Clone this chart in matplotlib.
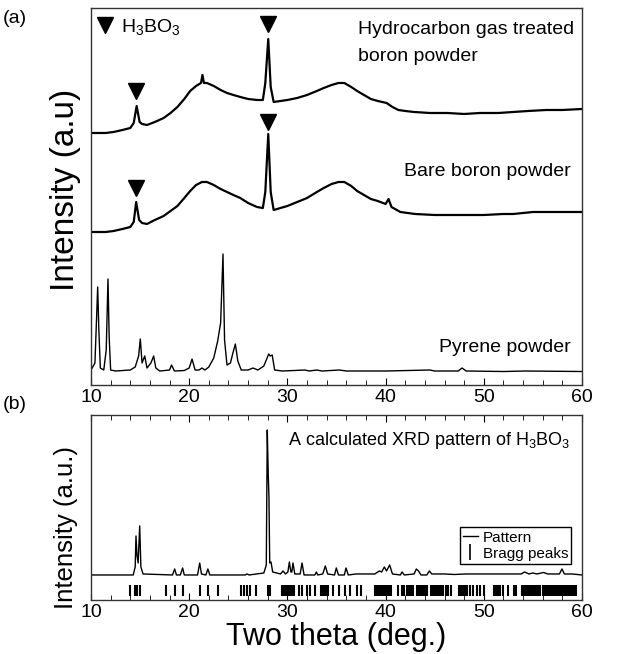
import matplotlib
matplotlib.use('Agg')
import matplotlib.pyplot as plt
from matplotlib.lines import Line2D
from matplotlib.ticker import MultipleLocator

plt.rcParams['font.family'] = ['Liberation Sans', 'DejaVu Sans']
plt.rcParams['mathtext.fontset'] = 'custom'
plt.rcParams['mathtext.rm'] = 'Liberation Sans'
plt.rcParams['mathtext.it'] = 'Liberation Sans:italic'

# ---- (a) measured patterns, stacked (a.u., offsets included) ----
gas_x = [10, 11.5, 12.3, 13.2, 14.0, 14.35, 14.65, 14.95, 15.2, 15.7, 16.5, 17.4, 18.1, 18.8,
         19.5, 20.1, 20.7, 21.2, 21.35, 21.5, 21.8, 22.5, 23.2, 23.85, 24.5, 25.2, 26.0,
         26.9, 27.5, 27.75, 28.05, 28.3, 28.6, 29.3, 30.0, 31.0, 32.0, 33.0, 33.7, 34.5,
         35.2, 35.8, 36.5, 37.1, 37.8, 38.5, 39.2, 40.1, 40.7, 41.3, 42.0, 42.9, 44.5,
         46.3, 48.0, 49.6, 51.5, 53.0, 54.5, 56.4, 58.0, 60]
gas_y = [239, 239, 240, 242, 244, 249, 266, 250, 248, 247, 250, 254, 259, 265,
         273, 281, 286, 289, 297, 289, 289, 286, 282, 279, 277, 275, 273,
         272, 272, 289, 333, 285, 270, 271, 272, 274, 277, 281, 284, 287,
         289, 289, 285, 281, 277, 273, 271, 269, 265, 262, 261, 260, 259,
         259, 258, 259, 259, 260, 261, 262, 262, 263]

bare_x = [10, 11.5, 12.3, 13.2, 14.0, 14.35, 14.6, 14.9, 15.2, 15.7, 16.5, 17.4, 18.1, 18.8,
          19.5, 20.1, 20.7, 21.3, 21.8, 22.5, 23.2, 23.85, 24.5, 25.2, 26.0, 26.9, 27.5,
          27.75, 28.05, 28.3, 28.6, 29.3, 30.0, 31.0, 32.0, 33.0, 33.7, 34.5, 35.2, 35.8,
          36.5, 37.1, 37.8, 38.5, 39.2, 40.0, 40.3, 40.6, 41.5, 43.0, 45.0, 47.5, 50.0,
          52.0, 53.0, 55.0, 57.5, 60]
bare_y = [140, 140, 141, 143, 145, 150, 170, 152, 149, 148, 152, 156, 161, 166,
          174, 181, 187, 190, 190, 187, 183, 180, 177, 174, 169, 165, 164,
          180, 238, 180, 162, 164, 166, 170, 174, 180, 184, 188, 190, 190,
          186, 181, 177, 173, 171, 168, 173, 165, 160, 158, 157, 157, 157,
          158, 158, 160, 160, 160]

pyrene_x = [10.0, 10.4, 10.55, 10.68, 10.8, 10.95, 11.3, 11.55, 11.73, 11.85, 12.0, 12.5,
            14.0, 14.5, 14.85, 15.02, 15.2, 15.47, 15.7, 16.1, 16.38, 16.6, 17.0, 18.0,
            18.2, 18.5, 19.5, 20.0, 20.29, 20.6, 21.0, 21.3, 21.6, 22.0, 22.5, 22.9, 23.2,
            23.44, 23.6, 23.85, 24.2, 24.45, 24.7, 24.95, 25.3, 26.0, 26.5, 27.0, 27.6,
            28.1, 28.25, 28.45, 28.7, 29.5, 31.8, 32.2, 33.0, 33.5, 35.3, 36.0, 40.0,
            44.5, 45.0, 47.4, 47.78, 48.2, 52.0, 54.2, 60.0]
pyrene_y = [2, 9, 49, 85, 42, 4, 2, 22, 93, 35, 2, 1,
            2, 5, 16, 33, 9, 16, 4, 9, 16, 4, 1, 2,
            7, 1, 1.5, 4, 13, 2, 2, 4, 2, 5, 14, 31, 49,
            118, 32, 7, 9, 19, 28, 11, 2, 2, 4, 2, 6,
            18, 16, 17, 2, 1, 2, 1, 2, 1, 2, 1, 1,
            2, 1, 1, 4, 1, 0.5, 1, 0.5]

# H3BO3 markers on the measured patterns
mark_x = [14.6, 28.0, 14.6, 28.0]
mark_y = [281, 348, 184, 250]

# ---- (b) calculated H3BO3 pattern ----
calc_x = [10, 14.3, 14.5, 14.58, 14.68, 14.8, 14.96, 15.08, 15.3, 18.3, 18.52, 18.7, 19.1,
          19.33, 19.5, 20.85, 21.07, 21.25, 21.7, 21.9, 22.1, 25.7, 25.9, 26.1, 27.6, 27.85,
          27.95, 28.05, 28.12, 28.2, 28.33, 28.5, 29.3, 29.55, 29.8, 30.05, 30.2, 30.35,
          30.45, 30.57, 30.75, 31.3, 31.49, 31.7, 32.8, 32.95, 33.1, 33.6, 33.86, 34.1,
          34.8, 34.98, 35.2, 35.8, 35.97, 36.2, 37.0, 38.9, 39.36, 39.6, 39.87, 40.1,
          40.41, 40.7, 41.5, 41.67, 41.9, 42.9, 43.13, 43.35, 43.6, 44.2, 44.45, 44.7,
          45.3, 46.0, 47.0, 48.2, 50.3, 52.3, 53.8, 54.16, 54.6, 55.0, 55.4, 56.1, 56.5,
          57.7, 57.96, 58.2, 58.5, 59.0, 60]
calc_y = [0, 0, 8, 39, 20, 12, 49, 8, 1, 0, 6, 0, 0,
          7, 0, 0, 12, 1, 0, 6, 0, 0, 1, 0, 2, 10,
          145, 100, 78, 12, 13, 3, 1, 4, 1, 3, 13, 3,
          3, 12, 1, 1, 12, 0, 0, 3, 0, 1, 9, 1,
          0, 7, 0, 0, 7, 0, 1, 1, 4, 3, 8, 4,
          10, 1, 0, 3, 0, 1, 6, 4, 0, 0, 4, 1,
          1, 1, 0.5, 1, 1, 1, 1, 3, 1, 2, 1, 2.5, 1,
          1, 6, 1, 1, 1, 0]

bragg = [13.94, 14.5, 14.7, 14.96, 17.67, 18.52, 19.33, 21.07, 21.91, 22.93,
         25.31, 25.55, 25.89, 26.23, 26.84, 27.99, 28.26,
         29.5, 29.6, 29.8, 29.95, 30.1, 30.25, 30.4, 30.55, 30.65,
         31.15, 31.49, 32.0, 32.34, 32.78, 33.4, 33.55, 33.7, 33.85, 34.0, 34.15,
         34.64, 35.22, 35.9, 36.41, 37.09, 37.53,
         38.9, 39.0, 39.1, 39.2, 39.3, 39.4, 39.5, 39.6, 39.7, 39.8, 39.9, 40.0,
         40.1, 40.2, 40.3, 40.4, 40.5,
         41.3, 41.7, 41.9, 42.2, 42.4, 42.6, 42.8,
         43.2, 43.4, 43.6, 43.8, 44.0, 44.2,
         44.6, 44.8, 45.0, 45.2, 45.4, 45.6, 45.8, 46.1, 46.4, 46.7,
         47.5, 47.7, 47.9, 48.1, 48.3, 48.6, 48.9, 49.3, 49.6, 50.0,
         51.0, 51.2, 51.4, 51.6, 52.0, 52.5, 53.1, 53.3,
         53.9, 54.1, 54.3, 54.5, 54.7, 54.9, 55.1, 55.3, 55.5, 55.7, 56.0, 56.2,
         56.4, 56.6, 56.8, 57.0, 57.2, 57.4, 57.6, 57.8, 58.0, 58.2, 58.4, 58.6,
         58.8, 59.0, 59.2, 59.4]


fig = plt.figure(figsize=(6.22, 6.54), dpi=100)
ax1 = fig.add_axes([0.1463, 0.4113, 0.7894, 0.5765])
ax2 = fig.add_axes([0.1463, 0.0826, 0.7894, 0.2829])

# panel (a)
ax1.plot(gas_x, gas_y, color='k', lw=1.6)
ax1.plot(bare_x, bare_y, color='k', lw=1.6)
ax1.plot(pyrene_x, pyrene_y, color='k', lw=1.0)
ax1.plot(mark_x, mark_y, 'kv', ms=11, ls='none')
ax1.plot([11.45], [347], 'kv', ms=11)
ax1.text(13.1, 345, 'H$_3$BO$_3$', fontsize=14, va='center', ha='left')
ax1.text(37.2, 342, 'Hydrocarbon gas treated', fontsize=14, va='center', ha='left')
ax1.text(37.2, 315, 'boron powder', fontsize=14, va='center', ha='left')
ax1.text(58.9, 200, 'Bare boron powder', fontsize=14, va='center', ha='right')
ax1.text(58.9, 25, 'Pyrene powder', fontsize=14, va='center', ha='right')
ax1.set_xlim(10, 60)
ax1.set_ylim(-13, 364)

# panel (b)
ax2.plot(calc_x, calc_y, color='k', lw=1.0)
ax2.vlines(bragg, -21, -10, color='k', lw=1.5)
ax2.text(58.8, 134, 'A calculated XRD pattern of H$_3$BO$_3$', fontsize=13,
         va='center', ha='right')
ax2.set_xlim(10, 60)
ax2.set_ylim(-25, 160)
handles = [Line2D([], [], color='k', lw=1.0),
           Line2D([], [], color='k', marker='|', ms=12, ls='none', mew=1.2)]
ax2.legend(handles, ['Pattern', 'Bragg peaks'], loc='lower right',
           bbox_to_anchor=(0.978, 0.195), fontsize=11, frameon=True, fancybox=False,
           edgecolor='k', framealpha=1, handlelength=1.0, handletextpad=0.3,
           borderpad=0.2, labelspacing=0.15, borderaxespad=0)

for ax in (ax1, ax2):
    ax.xaxis.set_major_locator(MultipleLocator(10))
    ax.xaxis.set_minor_locator(MultipleLocator(2))
    ax.set_yticks([])
    ax.tick_params(axis='x', which='both', direction='in', labelsize=14, pad=3)
    ax.tick_params(axis='x', which='major', length=5)
    ax.tick_params(axis='x', which='minor', length=3.5)
    for s in ax.spines.values():
        s.set_linewidth(1.0)
        s.set_color('#333333')
ax2.tick_params(axis='x', which='both', top=True)

fig.text(0.024, 0.972, '(a)', fontsize=14, ha='center', va='center')
fig.text(0.024, 0.381, '(b)', fontsize=14, ha='center', va='center')
fig.text(0.106, 0.71, 'Intensity (a.u)', fontsize=24, rotation=90, ha='center', va='center')
fig.text(0.106, 0.193, 'Intensity (a.u.)', fontsize=18.5, rotation=90, ha='center', va='center')
fig.text(0.541, 0.013, 'Two theta (deg.)', fontsize=22, ha='center', va='baseline')

fig.savefig('out.png', dpi=100)
